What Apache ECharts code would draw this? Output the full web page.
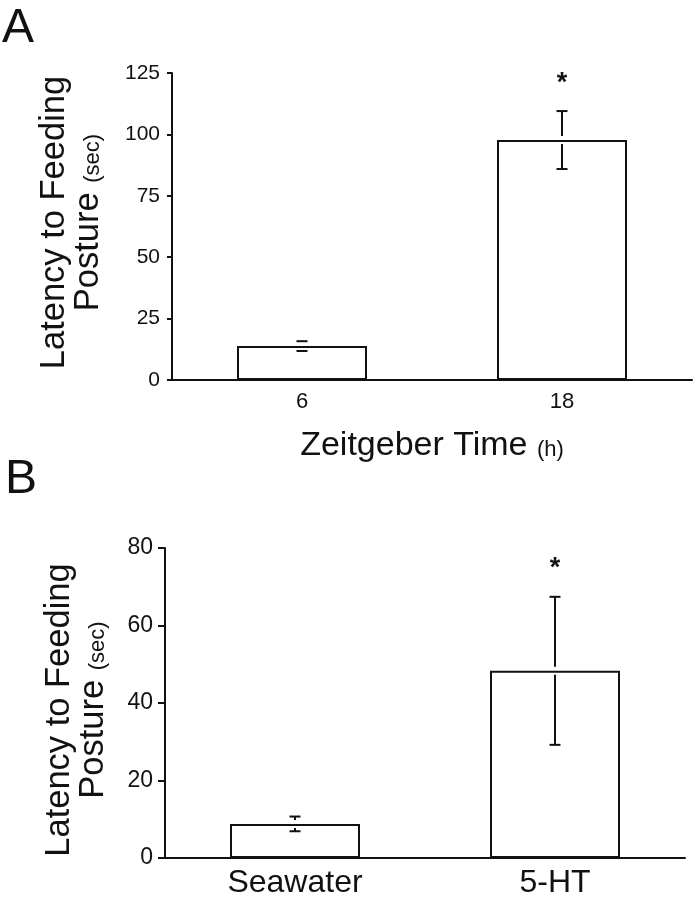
<!DOCTYPE html>
<html>
<head>
<meta charset="utf-8">
<script src="https://cdn.jsdelivr.net/npm/echarts@6/dist/echarts.min.js"></script>
<style>
  html, body { margin: 0; padding: 0; background: #fff; }
  #chart { width: 698px; height: 900px; }
</style>
</head>
<body>
<div id="chart"></div>
<script>
// ---- Panel A data ----
const categoriesA = ['6', '18'];
const meanA = [13.8, 97.7];
const semA = [2.0, 11.8];
const sigA = ['', '*'];
const yTicksA = [0, 25, 50, 75, 100, 125];

// ---- Panel B data ----
const categoriesB = ['Seawater', '5-HT'];
const meanB = [8.8, 48.3];
const semB = [1.9, 19.1];
const sigB = ['', '*'];
const yTicksB = [0, 20, 40, 60, 80];

const FONT = '"Liberation Sans", Arial, Helvetica, sans-serif';
const INK = '#111';

function errRender(params, api) {
  const i = api.value(0);
  const m = api.value(1);
  const s = api.value(2);
  const sig = api.value(3);
  const x = api.coord([i, 0])[0];
  const yM = api.coord([i, m])[1];
  const yH = api.coord([i, m + s])[1];
  const yL = api.coord([i, m - s])[1];
  const gap = 4, cap = 5.5;
  const st = { stroke: INK, lineWidth: 2 };
  const ch = [];
  if (yH < yM - gap) ch.push({ type: 'line', shape: { x1: x, y1: yH, x2: x, y2: yM - gap }, style: st });
  if (yL > yM + gap) ch.push({ type: 'line', shape: { x1: x, y1: yM + gap, x2: x, y2: yL }, style: st });
  ch.push({ type: 'line', shape: { x1: x - cap, y1: yH, x2: x + cap, y2: yH }, style: st });
  ch.push({ type: 'line', shape: { x1: x - cap, y1: yL, x2: x + cap, y2: yL }, style: st });
  if (sig) {
    ch.push({ type: 'text', style: { x: x, y: yH - 28, text: sig, fill: INK, font: 'bold 27px ' + FONT, textAlign: 'center', textVerticalAlign: 'middle' } });
  }
  return { type: 'group', children: ch };
}

function errData(means, sems, sigs) {
  return means.map((m, i) => [i, m, sems[i], sigs[i]]);
}

const richBig = { fontSize: 34.5, lineHeight: 34, fontFamily: FONT, color: INK, verticalAlign: 'bottom' };
const richSmall = { fontSize: 22, lineHeight: 34, fontFamily: FONT, color: INK, verticalAlign: 'bottom', padding: [0, 0, 2, 0] };

function yAxisFor(ticks, gridIndex, fontSize, tickLen, nameGap, namePad) {
  return {
    type: 'value', gridIndex: gridIndex,
    min: ticks[0], max: ticks[ticks.length - 1], interval: ticks[1] - ticks[0],
    axisLine: { show: true, lineStyle: { color: INK, width: 2 } },
    axisTick: { show: true, length: tickLen, lineStyle: { color: INK, width: 2 } },
    splitLine: { show: false },
    axisLabel: { color: INK, fontSize: fontSize, fontFamily: FONT, margin: 12 },
    name: '{a|Latency to Feeding}\n{a|Posture }{b|(sec)}',
    nameLocation: 'middle', nameGap: nameGap,
    nameTextStyle: {
      color: INK, fontFamily: FONT, align: 'center', padding: namePad,
      rich: { a: richBig, b: richSmall }
    }
  };
}

const chart = echarts.init(document.getElementById('chart'), null, { renderer: 'canvas' });
chart.setOption({
  backgroundColor: '#fff',
  animation: false,
  graphic: [
    { type: 'text', left: 2, top: 5, style: { text: 'A', font: '48px ' + FONT, fill: INK } },
    { type: 'text', left: 5, top: 456, style: { text: 'B', font: '48px ' + FONT, fill: INK } }
  ],
  grid: [
    { left: 172, top: 73, width: 520, height: 307 },
    { left: 165, top: 548, width: 520, height: 310 }
  ],
  xAxis: [
    {
      type: 'category', gridIndex: 0, data: categoriesA, boundaryGap: true,
      axisLine: { lineStyle: { color: INK, width: 2 } },
      axisTick: { alignWithLabel: true, length: 8, lineStyle: { color: INK, width: 2 } },
      axisLabel: { color: INK, fontSize: 22, fontFamily: FONT, margin: 11 },
      name: '{a|Zeitgeber Time }{b|(h)}', nameLocation: 'middle', nameGap: 49,
      nameTextStyle: {
        color: INK, fontFamily: FONT,
        rich: {
          a: { fontSize: 34, lineHeight: 34, fontFamily: FONT, color: INK, verticalAlign: 'bottom' },
          b: { fontSize: 22, lineHeight: 34, fontFamily: FONT, color: INK, verticalAlign: 'bottom', padding: [0, 0, 2, 0] }
        }
      }
    },
    {
      type: 'category', gridIndex: 1, data: categoriesB, boundaryGap: true,
      axisLine: { lineStyle: { color: INK, width: 2 } },
      axisTick: { alignWithLabel: true, length: 8, lineStyle: { color: INK, width: 2 } },
      axisLabel: { color: INK, fontSize: 32, fontFamily: FONT, margin: 9 }
    }
  ],
  yAxis: [
    yAxisFor(yTicksA, 0, 21, 5, 66, [0, 0, 0, 8]),
    yAxisFor(yTicksB, 1, 23, 7, 54, [0, 14, 0, 0])
  ],
  series: [
    {
      type: 'bar', xAxisIndex: 0, yAxisIndex: 0, data: meanA, barWidth: '50%',
      itemStyle: { color: '#fff', borderColor: INK, borderWidth: 2 }, z: 2
    },
    {
      type: 'custom', xAxisIndex: 0, yAxisIndex: 0, renderItem: errRender,
      data: errData(meanA, semA, sigA), z: 5, clip: false
    },
    {
      type: 'bar', xAxisIndex: 1, yAxisIndex: 1, data: meanB, barWidth: '50%',
      itemStyle: { color: '#fff', borderColor: INK, borderWidth: 2 }, z: 2
    },
    {
      type: 'custom', xAxisIndex: 1, yAxisIndex: 1, renderItem: errRender,
      data: errData(meanB, semB, sigB), z: 5, clip: false
    }
  ]
});
</script>
</body>
</html>
